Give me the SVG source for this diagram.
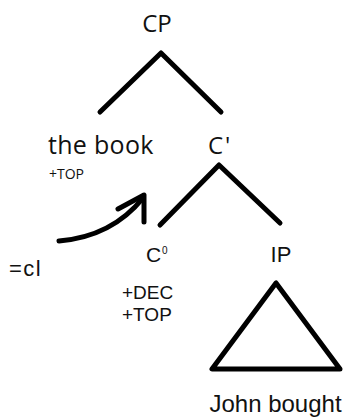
<svg xmlns="http://www.w3.org/2000/svg" width="346" height="417" viewBox="0 0 346 417">
<style>
.os{font-family:"Open Sans","Noto Sans",sans-serif;fill:#111}
.ar{font-family:"Liberation Sans",Arial,sans-serif;fill:#111}
.ln{stroke:#000;stroke-width:5;fill:none;stroke-linecap:round;stroke-linejoin:round}
</style>
<rect width="346" height="417" fill="#fff"/>
<g id="connectors">
<polyline class="ln" points="100,112 161,53 221,112"/>
<polyline class="ln" points="160,225 219,165 280,223"/>
<path class="ln" d="M59,241 C95,238 122,224 143,198"/>
<polyline class="ln" points="118,209 144,195 144,222"/>
</g>
<g id="CP"><text class="os" x="157" y="32" font-size="24" text-anchor="middle">CP</text></g>
<g id="thebook">
<text class="os" x="48" y="154" font-size="25" letter-spacing="0.3">the book</text>
<text class="os" x="49" y="179" font-size="14">+TOP</text>
</g>
<g id="Cbar"><text class="os" x="208" y="154" font-size="24" letter-spacing="2">C'</text></g>
<g id="cl"><text class="ar" x="9" y="276" font-size="22" letter-spacing="1.5">=cl</text></g>
<g id="C0">
<text class="ar" x="146" y="262" font-size="21">C</text>
<text class="ar" x="162" y="254" font-size="10">0</text>
<text class="ar" x="122" y="299" font-size="19">+DEC</text>
<text class="ar" x="122" y="321" font-size="19">+TOP</text>
</g>
<g id="IP"><text class="ar" x="281" y="262" font-size="22" text-anchor="middle">IP</text></g>
<g id="triangle">
<polygon class="ln" points="276,283 212,369 340,369"/>
<text class="ar" x="275.5" y="412" font-size="24" text-anchor="middle">John bought</text>
</g>
</svg>
